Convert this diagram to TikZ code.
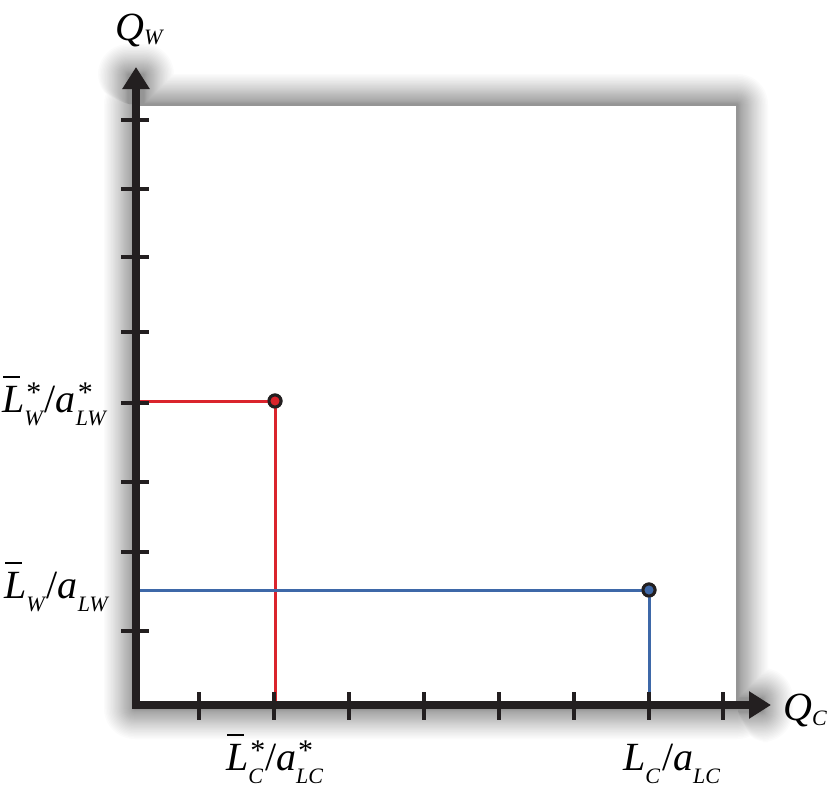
\documentclass[tikz,border=0pt]{standalone}
\usepackage{fontspec}
\setmainfont{Liberation Serif}
\usepackage{xcolor}
\usepackage{tikz}
\usetikzlibrary{arrows.meta, calc}

\newcommand{\subtxt}[1]{\raisebox{-13pt}{\fontsize{22}{22}\selectfont\itshape #1}}
\newcommand{\qsub}[1]{\raisebox{-5pt}{\fontsize{22}{22}\selectfont\itshape #1}}
\newcommand{\startxt}{\rlap{\hspace{2pt}\raisebox{10pt}{\fontsize{30}{30}\selectfont *}}}
\newcommand{\barL}{\rlap{\hspace{1pt}\rule[34pt]{17pt}{2pt}}\textit{L}}

\definecolor{axisblack}{RGB}{35,31,32}
\definecolor{ptred}{RGB}{218,36,44}
\definecolor{ptblue}{RGB}{62,104,168}

\begin{document}
\begin{tikzpicture}[
  x=1pt, y=-1pt,
  axis/.style  = {line width=8pt, axisblack, line join=miter,
                  {Triangle[length=22pt, width=26pt]}-{Triangle[length=22pt, width=26pt]}},
  tickmark/.style = {line width=4pt, axisblack},
  redline/.style  = {line width=3pt, ptred},
  blueline/.style = {line width=3pt, ptblue},
  dot/.style   = {circle, draw=axisblack, line width=3pt, minimum size=12pt, inner sep=0pt},
  lbl/.style   = {font=\fontsize{40}{48}\selectfont, inner sep=0pt}
]
  \useasboundingbox (0,0) rectangle (828,795);
  \fill[white] (0,0) rectangle (828,795);

  % soft shadow behind the panel and the axes
  \foreach \i [evaluate=\i as \e using {30*(\i/30)^1.5}] in {1,...,30}
    \fill[black, opacity=0.015, rounded corners=\e pt+0.5pt]
      (134-\e,104-\e) rectangle (738+\e,709+\e)
      (128-\e,74-\e) rectangle (144+\e,104)
      (738,698-\e) rectangle (763+\e,712+\e);
  \fill[white] (137,106) rectangle (736,705);

  \coordinate (O) at (136,705);
  \coordinate (ytip) at (136,67);
  \coordinate (xtip) at (771,705);

  \node[dot, fill=ptred]  (rpt) at (275,401) {};
  \node[dot, fill=ptblue] (bpt) at (649,590) {};

  \draw[redline]  (O |- rpt) -- (rpt.center) -- (rpt |- O);
  \draw[blueline] (O |- bpt) -- (bpt.center) -- (bpt |- O);
  \node[dot, fill=ptred]  at (rpt) {};
  \node[dot, fill=ptblue] at (bpt) {};

  \draw[axis] (ytip) -- (O) -- (xtip);
  \foreach \y in {120,189,257,332,403,482,552,631}
    \draw[tickmark] (121,\y) -- (149,\y);
  \foreach \x in {199,274,349,424,499,574,649,723}
    \draw[tickmark] (\x,692) -- (\x,720);

  \node[lbl, anchor=base west] (qw) at (115,40) {\textit{Q}\qsub{W}};
  \node[lbl, anchor=base west] (qc) at (783,720) {\textit{Q}\qsub{C}};
  \node[lbl, anchor=base west] (lw1) at (2,412)
    {\barL\startxt\subtxt{W}\hspace{2pt}/\textit{a}\startxt\subtxt{LW}};
  \node[lbl, anchor=base west] (lw2) at (4,598)
    {\barL\subtxt{W}\hspace{2pt}/\textit{a}\subtxt{LW}};
  \node[lbl, anchor=base west] (lc1) at (226,770)
    {\barL\startxt\subtxt{C}\hspace{2pt}/\textit{a}\startxt\subtxt{LC}};
  \node[lbl, anchor=base west] (lc2) at (623,770)
    {\textit{L}\subtxt{C}\hspace{2pt}/\textit{a}\subtxt{LC}};
\end{tikzpicture}
\end{document}
